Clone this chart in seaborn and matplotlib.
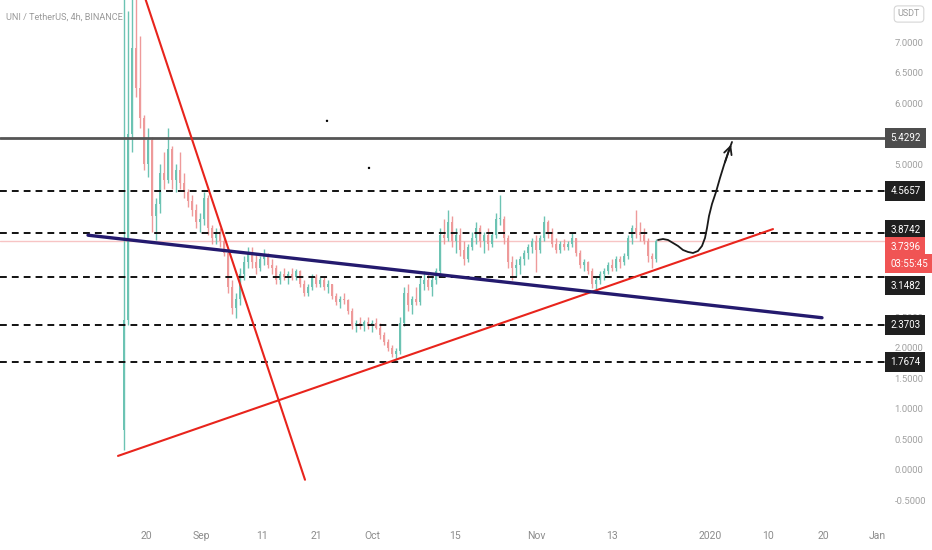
import numpy as np
import pandas as pd
import matplotlib
matplotlib.use("Agg")
import matplotlib.pyplot as plt
import matplotlib.transforms as mtransforms
import seaborn as sns

# candles (one candle ~ 16h), index 0 = listing candle
first_open = 0.65
highs = [8.3, 7.5, 7.9, 7.7, 7.1, 5.8, 5.6, 5.45, 4.45, 5.0,
         5.2, 5.59, 5.3, 5.0, 5.2, 4.85, 4.6, 4.5, 4.35, 4.2,
         4.55, 4.5, 4.0, 3.95, 3.95, 3.8, 3.6, 3.1, 2.9, 3.3,
         3.5, 3.65, 3.65, 3.55, 3.5, 3.62, 3.55, 3.45, 3.35, 3.25,
         3.3, 3.25, 3.3, 3.28, 3.27, 3.1, 3.05, 3.2, 3.2, 3.15,
         3.15, 3.1, 3.05, 2.9, 2.85, 2.9, 2.8, 2.65, 2.45, 2.5,
         2.45, 2.5, 2.45, 2.48, 2.4, 2.25, 2.15, 2.05, 2.0, 2.5,
         3.0, 3.05, 2.85, 3.0, 3.15, 3.25, 3.2, 3.15, 3.3, 3.95,
         4.1, 4.25, 4.15, 3.95, 3.95, 3.75, 3.7, 3.9, 4.05, 4.0,
         3.9, 3.95, 3.9, 4.2, 4.5, 4.15, 3.85, 3.5, 3.45, 3.5,
         3.6, 3.7, 3.8, 3.85, 3.85, 4.15, 4.09, 3.95, 3.8, 3.75,
         3.78, 3.75, 3.88, 3.8, 3.6, 3.45, 3.42, 3.3, 3.15, 3.25,
         3.3, 3.4, 3.45, 3.5, 3.5, 3.55, 3.85, 4.0, 4.25, 4.05,
         3.95, 3.8, 3.55, 3.78]
lows = [0.33, 2.37, 5.2, 6.1, 5.6, 4.9, 4.8, 3.9, 3.76, 4.2,
        4.6, 4.7, 4.6, 4.55, 4.6, 4.45, 4.3, 4.15, 3.95, 3.9,
        4.0, 3.85, 3.7, 3.7, 3.65, 3.5, 2.9, 2.55, 2.48, 2.7,
        3.1, 3.3, 3.3, 3.2, 3.25, 3.35, 3.3, 3.2, 3.05, 3.05,
        3.1, 3.05, 3.1, 3.1, 3.0, 2.85, 2.85, 2.95, 3.0, 3.0,
        2.95, 2.9, 2.8, 2.7, 2.65, 2.72, 2.55, 2.3, 2.25, 2.3,
        2.28, 2.3, 2.25, 2.3, 2.15, 2.05, 1.95, 1.85, 1.8, 1.9,
        2.35, 2.6, 2.55, 2.7, 2.7, 2.95, 2.95, 2.85, 3.05, 3.2,
        3.7, 3.75, 3.65, 3.55, 3.5, 3.35, 3.4, 3.6, 3.7, 3.65,
        3.55, 3.6, 3.65, 3.8, 4.0, 3.7, 3.3, 3.1, 3.15, 3.2,
        3.35, 3.45, 3.55, 3.24, 3.55, 3.75, 3.8, 3.65, 3.55, 3.55,
        3.6, 3.6, 3.65, 3.5, 3.3, 3.25, 3.2, 2.98, 2.95, 3.05,
        3.1, 3.2, 3.25, 3.25, 3.3, 3.35, 3.45, 3.7, 3.8, 3.75,
        3.7, 3.4, 3.3, 3.4]
closes = [2.45, 5.5, 6.9, 6.25, 5.75, 5.0, 5.4, 4.15, 4.35, 4.85,
          4.75, 5.25, 4.75, 4.9, 4.7, 4.55, 4.4, 4.25, 4.05, 4.1,
          4.45, 3.95, 3.8, 3.9, 3.75, 3.55, 3.0, 2.65, 2.8, 3.2,
          3.4, 3.55, 3.4, 3.3, 3.45, 3.5, 3.35, 3.3, 3.1, 3.2,
          3.15, 3.2, 3.15, 3.25, 3.05, 2.9, 3.0, 3.15, 3.05, 3.1,
          3.0, 3.05, 2.85, 2.75, 2.8, 2.78, 2.6, 2.35, 2.4, 2.35,
          2.42, 2.35, 2.4, 2.32, 2.2, 2.1, 2.0, 1.9, 1.95, 2.4,
          2.9, 2.7, 2.8, 2.75, 3.05, 3.1, 3.0, 3.1, 3.25, 3.85,
          3.8, 4.05, 3.75, 3.85, 3.6, 3.45, 3.65, 3.8, 3.95, 3.75,
          3.85, 3.7, 3.85, 4.1, 4.1, 3.8, 3.4, 3.3, 3.35, 3.45,
          3.55, 3.65, 3.75, 3.6, 3.8, 4.05, 3.9, 3.7, 3.6, 3.7,
          3.65, 3.7, 3.8, 3.55, 3.35, 3.4, 3.25, 3.05, 3.1, 3.2,
          3.25, 3.35, 3.3, 3.45, 3.4, 3.5, 3.8, 3.95, 3.9, 3.85,
          3.75, 3.5, 3.45, 3.74]

# x tick labels (candle index positions)
tick_pos = [5.5, 19.25, 34.5, 48, 62, 82.75, 103, 122, 146.5, 161, 174.75, 188.25]
tick_labels = ["20", "Sep", "11", "21", "Oct", "15", "Nov", "13", "2020", "10", "20", "Jan"]

# horizontal levels
levels = [5.4292, 4.5657, 3.8742, 3.1482, 2.3703, 1.7674]
last_price = 3.7396
countdown = "03:55:45"

# drawn trend lines (candle index, price)
down_x, down_y = [3.85, 45.25], [8.0, -0.16]
up_x, up_y = [-1.5, 162.25], [0.23, 3.94]
navy_x, navy_y = [-9, 174.5], [3.84, 2.49]

# projected path
path_x = [133.5, 134.75, 136, 137.25, 138.5, 139.75, 141, 142.25, 143.5, 144.5,
          145.25, 145.75, 146.25, 147, 148, 149, 150, 151, 152]
path_y = [3.762, 3.778, 3.762, 3.713, 3.664, 3.598, 3.566, 3.549, 3.582, 3.664,
          3.795, 3.958, 4.154, 4.351, 4.547, 4.776, 4.988, 5.185, 5.365]

# stray dots
dot_x = [50.75, 61.25]
dot_y = [5.71, 4.94]

sns.set_theme(style="white")
plt.rcParams['font.family'] = ['Roboto', 'DejaVu Sans']

df = pd.DataFrame({"high": highs, "low": lows, "close": closes})
df["open"] = [first_open] + closes[:-1]
df["x"] = np.arange(len(df))
df["up"] = df["close"] >= df["open"]

up_col = "#6cc3b3"
dn_col = "#ee9a9a"

fig = plt.figure(figsize=(9.32, 5.5), dpi=100)
ax = fig.add_axes([0, 25 / 550, 885 / 932, 525 / 550])

cols = np.where(df["up"], up_col, dn_col)
ax.vlines(df["x"], df["low"], df["high"], colors=cols, lw=1.0, zorder=2)
body_low = df[["open", "close"]].min(axis=1)
body_h = (df["close"] - df["open"]).abs().clip(lower=0.02)
ax.bar(df["x"], body_h, bottom=body_low, width=0.7, color=cols, lw=0, zorder=2)

# last price line
ax.axhline(last_price, color="#f7c4c4", lw=1, zorder=1)

# levels
for i, lv in enumerate(levels):
    if i == 0:
        ax.axhline(lv, color="#555555", lw=2, zorder=3)
    else:
        ax.axhline(lv, color="#111111", lw=1.4, ls=(0, (3.5, 2.6)), zorder=3)

# trend lines
sns.lineplot(x=down_x, y=down_y, ax=ax, color="#e8241c", lw=1.5, zorder=4)
sns.lineplot(x=up_x, y=up_y, ax=ax, color="#e8241c", lw=1.5, zorder=4)
sns.lineplot(x=navy_x, y=navy_y, ax=ax, color="#241a6e", lw=2.4, zorder=4)

# projection arrow
sns.lineplot(x=path_x, y=path_y, ax=ax, color="#1a1a1a", lw=1.3, zorder=5)
ax.annotate("", xy=(path_x[-1], path_y[-1]), xytext=(path_x[-3], path_y[-3]),
            arrowprops=dict(arrowstyle="->", color="#1a1a1a", lw=1.3, mutation_scale=14),
            zorder=5)

sns.scatterplot(x=dot_x, y=dot_y, ax=ax, color="black", s=3, edgecolor="none", zorder=5)

ax.set_xlim(-31, 190.25)
ax.set_ylim(-0.9, 7.687)
for s in ax.spines.values():
    s.set_visible(False)

ax.set_xticks(tick_pos)
ax.set_xticklabels(tick_labels)
ax.yaxis.tick_right()
ax.set_yticks(np.arange(-0.5, 7.6, 0.5))
ax.set_yticklabels([f"{v:.4f}" for v in np.arange(-0.5, 7.6, 0.5)])
ax.tick_params(axis="x", length=0, pad=4, labelsize=7.5, colors="#8c8c8c")
ax.tick_params(axis="y", length=0, pad=7, labelsize=6.8, colors="#a0a0a0")

# price-scale labels, nudged apart where they crowd (like the scale does)
trans = mtransforms.blended_transform_factory(ax.transAxes, ax.transData)
nudge = {2: 2.2, 3: -5.8}
for i, lv in enumerate(levels):
    fc = "#4d4d4d" if i == 0 else "#1f1f1f"
    ax.annotate(f"{lv:.4f}", xy=(1.006, lv), xycoords=trans, xytext=(0, nudge.get(i, 0)),
                textcoords="offset points", ha="left", va="center", fontsize=7,
                color="white", zorder=10, annotation_clip=False,
                bbox=dict(boxstyle="square,pad=0.5", fc=fc, ec="none"))
ax.annotate(f"{last_price:.4f}", xy=(1.006, last_price), xycoords=trans, xytext=(0, -4.3),
            textcoords="offset points", ha="left", va="center", fontsize=7,
            color="white", zorder=11, annotation_clip=False,
            bbox=dict(boxstyle="square,pad=0.5", fc="#f05454", ec="none"))
ax.annotate(countdown, xy=(1.006, last_price), xycoords=trans, xytext=(0, -16),
            textcoords="offset points", ha="left", va="center", fontsize=7,
            color="white", zorder=11, annotation_clip=False,
            bbox=dict(boxstyle="square,pad=0.5", fc="#f05454", ec="none"))

ax.text(6 / 885, 1 - 17 / 525, "UNI / TetherUS, 4h, BINANCE", transform=ax.transAxes,
        ha="left", va="center", fontsize=6.6, color="#9a9a9a")

fig.text(909 / 932, 1 - 14 / 550, "USDT", ha="center", va="center", fontsize=6.5,
         color="#9a9a9a", zorder=10,
         bbox=dict(boxstyle="round,pad=0.4,rounding_size=0.4", fc="white", ec="#d6d6d6", lw=0.8))

fig.savefig("out.png", dpi=100)
